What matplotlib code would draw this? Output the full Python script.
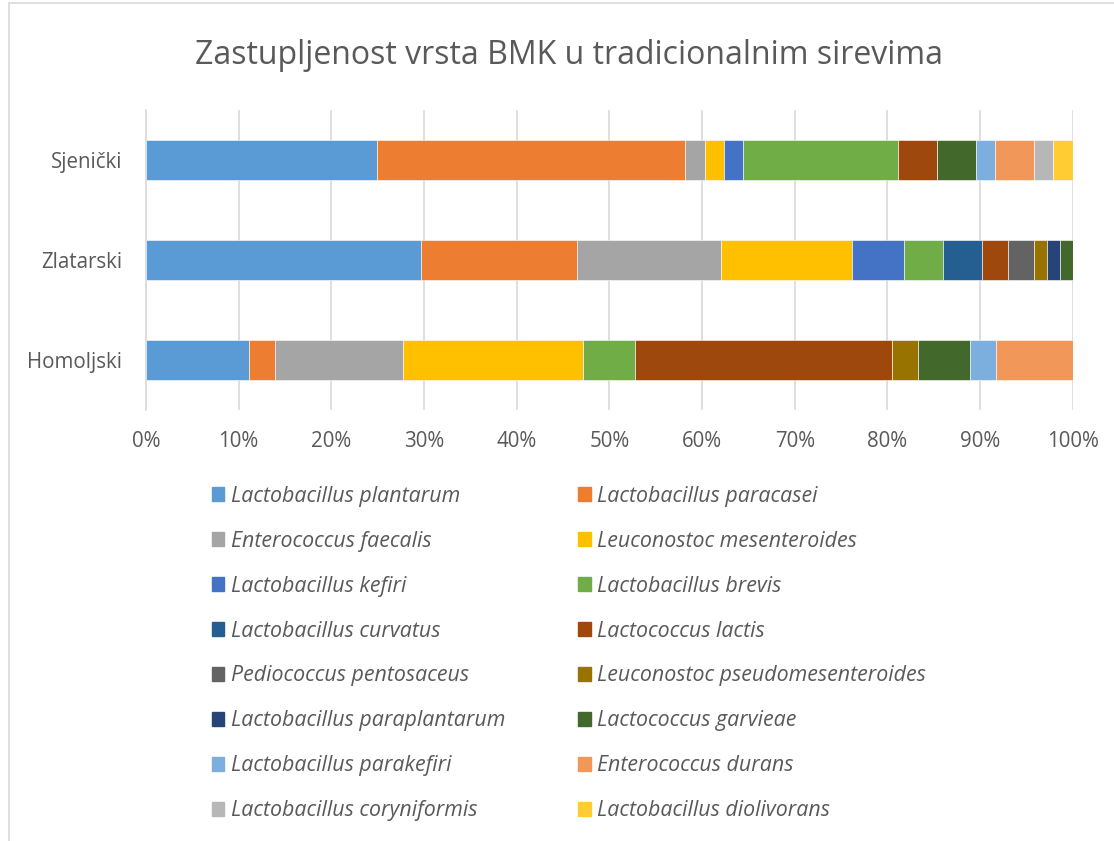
import matplotlib.pyplot as plt
from matplotlib.patches import Rectangle
import numpy as np

plt.rcParams['font.family'] = ['Open Sans', 'DejaVu Sans']

cheeses = ["Homoljski", "Zlatarski", "Sjenički"]

species = [
    "Lactobacillus plantarum", "Lactobacillus paracasei",
    "Enterococcus faecalis", "Leuconostoc mesenteroides",
    "Lactobacillus kefiri", "Lactobacillus brevis",
    "Lactobacillus curvatus", "Lactococcus lactis",
    "Pediococcus pentosaceus", "Leuconostoc pseudomesenteroides",
    "Lactobacillus paraplantarum", "Lactococcus garvieae",
    "Lactobacillus parakefiri", "Enterococcus durans",
    "Lactobacillus coryniformis", "Lactobacillus diolivorans",
]

# shares in %, order: Homoljski, Zlatarski, Sjenicki
homoljski = [11.1, 2.8, 13.9, 19.4, 0, 5.6, 0, 27.8, 0, 2.8, 0, 5.6, 2.8, 8.3, 0, 0]
zlatarski = [29.6, 16.9, 15.5, 14.1, 5.6, 4.2, 4.2, 2.8, 2.8, 1.4, 1.4, 1.4, 0, 0, 0, 0]
sjenicki = [25.0, 33.3, 2.1, 2.1, 2.1, 16.7, 0, 4.2, 0, 0, 0, 4.2, 2.1, 4.2, 2.1, 2.1]

colors = ["#5B9BD5", "#ED7D31", "#A5A5A5", "#FFC000", "#4472C4", "#70AD47",
          "#255E91", "#9E480E", "#636363", "#997300", "#264478", "#43682B",
          "#7CAFDD", "#F1975A", "#B7B7B7", "#FFCD33"]

data = np.array([homoljski, zlatarski, sjenicki])
data = data / data.sum(axis=1, keepdims=True)

fig = plt.figure(figsize=(11.14, 8.41), dpi=100)
ax = fig.add_axes([0.131, 0.5125, 0.832, 0.3565])

txt = "#595959"
left = np.zeros(3)
handles = []
for i, name in enumerate(species):
    ax.barh(np.arange(3), data[:, i], left=left, height=0.4,
            color=colors[i], edgecolor="white", linewidth=0.4, zorder=3)
    left += data[:, i]
    handles.append(Rectangle((0, 0), 1, 1, color=colors[i]))

ax.set_xlim(0, 1)
ax.set_ylim(-0.5, 2.5)
ax.set_xticks(np.linspace(0, 1, 11))
ax.set_xticklabels([f"{int(v)}%" for v in np.linspace(0, 100, 11)])
ax.set_yticks(np.arange(3))
ax.set_yticklabels(cheeses)
ax.grid(axis="x", color="#D9D9D9", linewidth=1.2, zorder=0)
for s in ["top", "right", "bottom"]:
    ax.spines[s].set_visible(False)
ax.spines["left"].set_color("#D9D9D9")
ax.spines["left"].set_linewidth(1.2)
ax.tick_params(axis="both", length=0, labelsize=14.8, colors=txt)
ax.tick_params(axis="x", pad=15)
ax.tick_params(axis="y", pad=17)

fig.text(0.511, 0.934, "Zastupljenost vrsta BMK u tradicionalnim sirevima",
         ha="center", va="center", fontsize=23, color=txt)

# legend filled row by row like the original
order = list(range(0, 16, 2)) + list(range(1, 16, 2))
leg = fig.legend([handles[k] for k in order], [species[k] for k in order],
                 ncol=2, loc="upper left", bbox_to_anchor=(0.19, 0.4225),
                 frameon=False, fontsize=15.4, handlelength=0.6, handleheight=0.6,
                 handletextpad=0.3, columnspacing=3.4, labelspacing=1.12,
                 borderaxespad=0, borderpad=0)
for t in leg.get_texts():
    t.set_color(txt)
    t.set_style("italic")

fig.patches.append(Rectangle((9 / 1114, -0.01), 1.2, 1.0 - 3 / 841 + 0.01,
                             transform=fig.transFigure, fill=False,
                             edgecolor="#D9D9D9", linewidth=1.2))

fig.savefig("out.png", dpi=100, facecolor="white")
